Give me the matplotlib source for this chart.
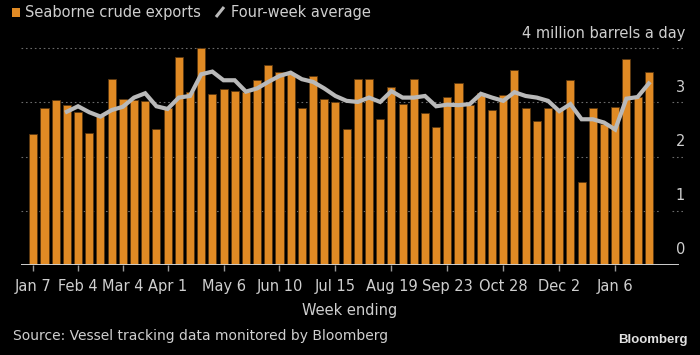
import numpy as np
import matplotlib
matplotlib.use("Agg")
import matplotlib.pyplot as plt
from matplotlib.lines import Line2D
from matplotlib.patches import Rectangle

# weekly seaborne crude exports, million barrels a day (week ending Jan 7 onward)
exports = [2.42, 2.90, 3.05, 2.95, 2.83, 2.44, 2.75, 3.43, 3.06, 3.05,
           3.03, 2.51, 2.90, 3.84, 3.20, 4.01, 3.16, 3.24, 3.21, 3.19,
           3.41, 3.70, 3.56, 3.53, 2.90, 3.48, 3.06, 3.01, 2.51, 3.44,
           3.43, 2.69, 3.28, 2.97, 3.43, 2.80, 2.55, 3.10, 3.36, 2.95,
           3.17, 2.87, 3.14, 3.60, 2.90, 2.66, 2.90, 2.86, 3.41, 1.54,
           2.90, 2.60, 2.92, 3.80, 3.11, 3.56]

# four-week average, first value at week 4
avg_start = 3
avg4 = [2.83, 2.93, 2.82, 2.74, 2.86, 2.92, 3.09, 3.17, 2.93, 2.88,
        3.09, 3.12, 3.52, 3.57, 3.41, 3.41, 3.20, 3.26, 3.38, 3.49,
        3.55, 3.43, 3.38, 3.26, 3.12, 3.03, 3.01, 3.09, 3.01, 3.21,
        3.09, 3.09, 3.12, 2.93, 2.96, 2.95, 2.97, 3.16, 3.09, 3.03,
        3.19, 3.12, 3.09, 3.03, 2.84, 2.97, 2.69, 2.69, 2.63, 2.50,
        3.07, 3.10, 3.35]

tick_weeks = [0, 4, 8, 12, 17, 22, 27, 32, 37, 42, 47, 52]
tick_labels = ["Jan 7", "Feb 4", "Mar 4", "Apr 1", "May 6", "Jun 10",
               "Jul 15", "Aug 19", "Sep 23", "Oct 28", "Dec 2", "Jan 6"]

y_labels = [0, 1, 2, 3]

BG = "black"
ORANGE = "#E08A24"
GREY_LINE = "#B9B9B9"
TXT = "#CFCFCF"
FONT = ["Liberation Sans Narrow", "DejaVu Sans"]

plt.rcParams["font.family"] = FONT

W, H = 700, 355
fig = plt.figure(figsize=(W / 100, H / 100), dpi=100, facecolor=BG)

# axes geometry in pixels
left_px, right_px = 21, 683
base_px, top4_px = 265, 48.3
unit_px = (base_px - top4_px) / 4
ytop = 4.1
ax = fig.add_axes([left_px / W, (H - base_px) / H,
                   (right_px - left_px) / W, ytop * unit_px / H])
ax.set_facecolor(BG)

x = np.arange(len(exports))
ax.bar(x, exports, width=0.72, color=ORANGE, edgecolor="#5a3710",
       linewidth=0.6, zorder=2)
ax.plot(x[avg_start:avg_start + len(avg4)], avg4, color=GREY_LINE,
        lw=3.0, solid_joinstyle="miter", zorder=3)

ax.set_xlim(-(33.3 - left_px) / 11.19, (right_px - 33.3) / 11.19)
ax.set_ylim(0, ytop)

# dotted gridlines plus short right tick segments
grid_end = (660 - left_px) / (right_px - left_px)
seg_start = (672 - left_px) / (right_px - left_px)
for v in [1, 2, 3, 4]:
    ax.axhline(v, xmin=0, xmax=grid_end, color="#6a6a6a", lw=0.8,
               ls=(0, (1.5, 2.5)), zorder=1)
    ax.axhline(v, xmin=seg_start, xmax=1, color="#6a6a6a", lw=0.8,
               ls=(0, (1.5, 2.5)), zorder=1)
ax.axhline(0, xmin=0, xmax=(678 - left_px) / (right_px - left_px),
           color="#CFCFCF", lw=1.4, zorder=4)

for s in ax.spines.values():
    s.set_visible(False)

ax.set_yticks([])
ax.set_xticks(tick_weeks)
ax.set_xticklabels(tick_labels)
ax.tick_params(axis="x", colors="#9a9a9a", length=4, width=1, pad=6,
               labelsize=10.5, labelcolor=TXT)

for v in y_labels:
    ax.annotate(str(v), xy=(1.003, v), xycoords=("axes fraction", "data"),
                xytext=(0, 11), textcoords="offset points",
                ha="right", va="center", color=TXT, fontsize=10.5)
ax.annotate("4 million barrels a day", xy=(1.003, 4),
            xycoords=("axes fraction", "data"), xytext=(0, 11),
            textcoords="offset points", ha="right", va="center",
            color=TXT, fontsize=10.5)

fig.text(350 / W, 1 - 311 / H, "Week ending", ha="center", va="center",
         color=TXT, fontsize=10.5)
fig.text(13 / W, 1 - 336 / H,
         "Source: Vessel tracking data monitored by Bloomberg",
         ha="left", va="center", color=TXT, fontsize=10)
fig.text(688 / W, 1 - 340 / H, "Bloomberg", ha="right", va="center",
         color="#E0E0E0", fontsize=9.5, fontweight="bold",
         family=["Liberation Sans", "DejaVu Sans"])

# legend row at top-left: orange square, text, grey slash, text
fig.patches.append(Rectangle((12 / W, 1 - 17 / H), 8 / W, 9 / H,
                             transform=fig.transFigure, facecolor=ORANGE,
                             edgecolor="none"))
fig.text(25 / W, 1 - 12 / H, "Seaborne crude exports", ha="left",
         va="center", color=TXT, fontsize=10.5)
fig.lines.append(Line2D([216 / W, 224 / W], [1 - 17 / H, 1 - 7 / H],
                        transform=fig.transFigure, color=GREY_LINE, lw=2.2,
                        solid_capstyle="butt"))
fig.text(231 / W, 1 - 12 / H, "Four-week average", ha="left",
         va="center", color=TXT, fontsize=10.5)

fig.savefig("out.png", dpi=100, facecolor=BG)
